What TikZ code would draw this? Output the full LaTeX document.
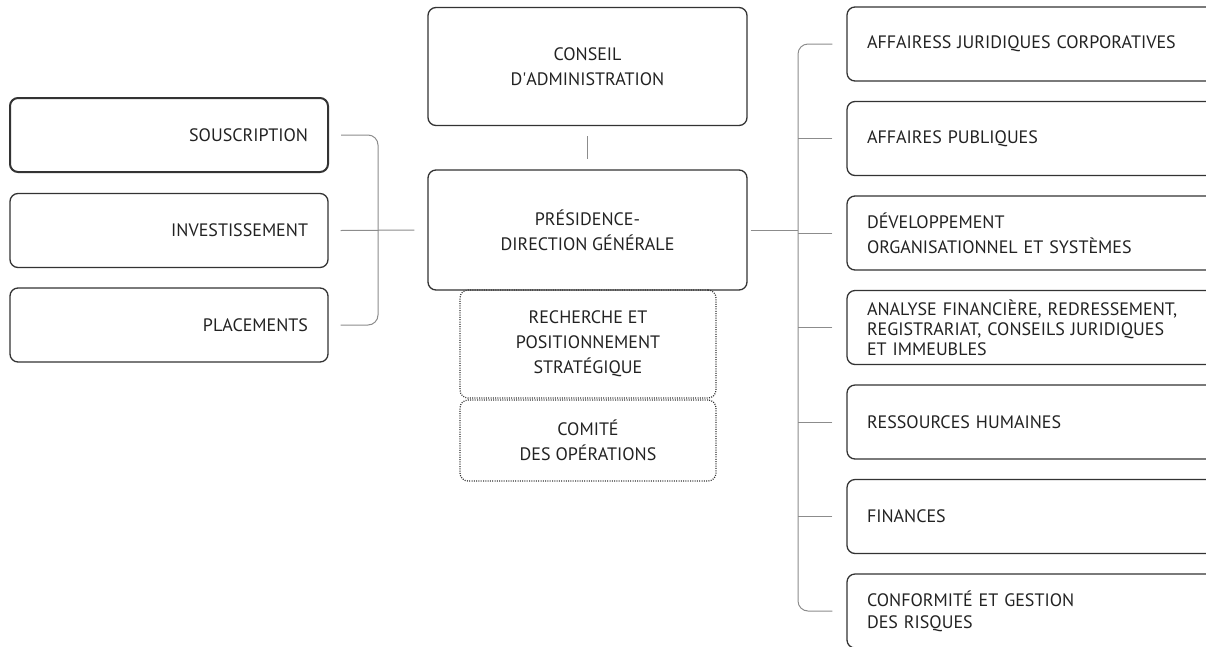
\documentclass[tikz,border=0pt]{standalone}
\usepackage{fontspec}
\setmainfont{PT Sans}
\begin{document}
\begin{tikzpicture}[x=1pt,y=-1pt,
  every node/.style={text=txt},
  box/.style={draw=bord, line width=1.3pt, rounded corners=8pt, inner sep=0pt, font=\fontsize{18}{25}\selectfont},
  lbox/.style={box, minimum width=318pt, minimum height=74pt, text width=278pt, align=right},
  rbox/.style={box, minimum width=383pt, minimum height=74pt, text width=343pt, align=left},
  cbox/.style={box, minimum width=319pt, minimum height=118pt, align=center},
  dbox/.style={box, dash pattern=on 1pt off 1.3pt, line width=1.2pt, minimum width=256pt, align=center},
  conn/.style={draw=con, line width=1pt}
]
\definecolor{bord}{HTML}{333333}
\definecolor{con}{HTML}{8C8C8C}
\definecolor{txt}{HTML}{222222}
\useasboundingbox (0,0) rectangle (1206,646);

% left column
\node[lbox, line width=2pt] (sous) at (169,135) {SOUSCRIPTION};
\node[lbox] (inv) at (169,230.5) {INVESTISSEMENT};
\node[lbox] (plac) at (169,325) {PLACEMENTS};

% centre column
\node[cbox] (cons) at (587.5,66.5) {CONSEIL\\D\textquotesingle ADMINISTRATION};
\node[cbox, minimum height=120pt] (pres) at (587.5,230) {PRÉSIDENCE-\\DIRECTION GÉNÉRALE};
\node[dbox, minimum height=108pt] (rech) at (588,344) {RECHERCHE ET\\POSITIONNEMENT\\STRATÉGIQUE};
\node[dbox, minimum height=81pt] (comi) at (588,440.5) {COMITÉ\\DES OPÉRATIONS};

% right column
\node[rbox] (r1) at (1038.5,44) {AFFAIRESS JURIDIQUES CORPORATIVES};
\node[rbox] (r2) at (1038.5,138.5) {AFFAIRES PUBLIQUES};
\node[rbox] (r3) at (1038.5,233) {DÉVELOPPEMENT\\ORGANISATIONNEL ET SYSTÈMES};
\node[rbox, font=\fontsize{18}{20}\selectfont] (r4) at (1038.5,327.5) {ANALYSE FINANCIÈRE, REDRESSEMENT,\\REGISTRARIAT, CONSEILS JURIDIQUES\\ET IMMEUBLES};
\node[rbox] (r5) at (1038.5,422) {RESSOURCES HUMAINES};
\node[rbox] (r6) at (1038.5,516.5) {FINANCES};
\node[rbox, font=\fontsize{18}{22}\selectfont] (r7) at (1038.5,611) {CONFORMITÉ ET GESTION\\DES RISQUES};

% bars
\coordinate (lbar) at (378,230);
\coordinate (rbar) at (798,230);

% connectors
\draw[conn] ([yshift=-10pt]cons.south) -- ([yshift=10pt]pres.north);
\draw[conn, rounded corners=10pt] ([xshift=12pt]sous.east) -| (lbar) |- ([xshift=12pt]plac.east);
\draw[conn] ([xshift=12pt]inv.east) -- ([xshift=-13pt]pres.west);
\draw[conn] ([xshift=3pt]pres.east) -- (rbar);
\draw[conn, rounded corners=10pt] ([xshift=-14pt]r1.west) -| (rbar) |- ([xshift=-14pt]r7.west);
\foreach \r in {r2,r3,r4,r5,r6}
  \draw[conn] ([xshift=-14pt]\r.west) -- (rbar |- \r.west);
\end{tikzpicture}
\end{document}
